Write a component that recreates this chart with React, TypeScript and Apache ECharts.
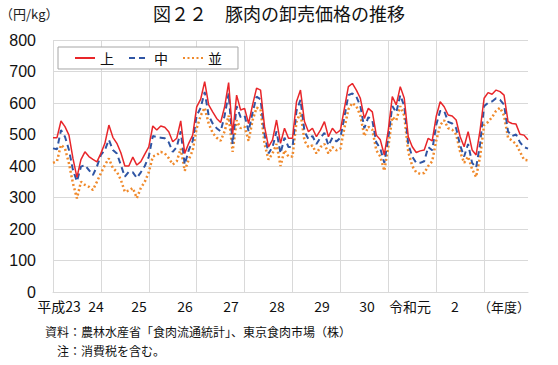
import React, { useEffect, useRef } from "react";
import * as echarts from "echarts";

const yearLabels = ["平成23", "24", "25", "26", "27", "28", "29", "30", "令和元", "2"];
const yearLabelX = [59, 96, 139, 185, 231, 277, 322, 367, 410, 455];
const unitLabel = "（年度）";
const months = ["4", "5", "6", "7", "8", "9", "10", "11", "12", "1", "2", "3"];

const jo = [
  490, 490, 543, 525, 498, 424, 364, 420, 445, 430, 421, 413,
  440, 472, 530, 491, 472, 442, 400, 400, 428, 403, 414, 438,
  461, 527, 514, 527, 523, 509, 477, 488, 543, 440, 472, 498,
  588, 612, 668, 594, 572, 551, 538, 588, 665, 500, 625, 578,
  583, 535, 594, 647, 641, 525, 461, 483, 546, 472, 520, 488,
  488, 604, 641, 541, 509, 520, 493, 514, 541, 493, 520, 504,
  514, 583, 652, 662, 641, 615, 551, 583, 572, 498, 483, 435,
  514, 620, 594, 652, 615, 493, 461, 443, 448, 451, 488, 480,
  557, 604, 588, 562, 559, 546, 493, 461, 509, 451, 435, 514,
  615, 633, 628, 641, 636, 625, 541, 535, 533, 501, 498, 483,
];
const chu = [
  456, 453, 514, 493, 451, 387, 351, 398, 403, 387, 371, 398,
  435, 451, 483, 451, 440, 403, 366, 382, 380, 362, 380, 400,
  430, 495, 492, 490, 488, 475, 445, 460, 510, 405, 450, 480,
  560, 585, 635, 560, 535, 520, 510, 560, 630, 470, 590, 555,
  560, 510, 570, 620, 612, 500, 440, 460, 510, 440, 490, 460,
  460, 575, 610, 510, 485, 495, 470, 490, 505, 465, 490, 478,
  490, 555, 625, 630, 620, 590, 520, 555, 545, 475, 455, 410,
  490, 590, 570, 625, 590, 470, 430, 410, 410, 415, 460, 450,
  530, 575, 575, 540, 535, 520, 465, 430, 470, 410, 395, 470,
  590, 600, 605, 615, 610, 595, 510, 495, 500, 475, 460, 455,
];
const nami = [
  410, 415, 467, 456, 408, 345, 297, 350, 340, 334, 324, 350,
  377, 403, 424, 393, 382, 356, 318, 322, 330, 298, 330, 350,
  380, 430, 435, 445, 440, 425, 405, 415, 455, 385, 420, 450,
  520, 560, 585, 535, 505, 490, 480, 510, 560, 445, 545, 520,
  525, 480, 545, 585, 580, 470, 420, 440, 470, 400, 450, 430,
  430, 540, 570, 480, 460, 465, 440, 460, 470, 440, 460, 450,
  455, 520, 580, 600, 590, 560, 495, 525, 515, 450, 430, 385,
  460, 555, 545, 590, 560, 445, 400, 380, 375, 378, 400, 415,
  480, 530, 545, 520, 515, 500, 445, 410, 430, 390, 365, 430,
  530, 540, 555, 575, 585, 560, 490, 480, 470, 445, 420, 418,
];

const categories: string[] = [];
yearLabels.forEach((y) => months.forEach((m) => categories.push(y + "-" + m)));

const FONT = "'Liberation Sans', 'Noto Sans CJK JP', sans-serif";
const JFONT = "'Noto Sans CJK JP', sans-serif";

export default function App() {
  const ref = useRef<HTMLDivElement>(null);
  useEffect(() => {
    if (!ref.current) return;
    const chart = echarts.init(ref.current, undefined, { renderer: "svg" });
    const graphics: any[] = [
      {
        type: "text",
        left: "center",
        top: 4,
        style: { text: "図２２　豚肉の卸売価格の推移", font: `18px ${JFONT}`, fill: "#111" },
      },
      {
        type: "text",
        x: 0,
        y: 7,
        style: { text: "（円/kg）", font: `13px ${JFONT}`, fill: "#222" },
      },
      ...yearLabels.map((t, i) => ({
        type: "text",
        x: yearLabelX[i],
        y: 306,
        style: { text: t, font: `14px ${JFONT}`, fill: "#111", align: "center", verticalAlign: "middle" },
      })),
      {
        type: "text",
        x: 478,
        y: 306,
        style: { text: unitLabel, font: `13px ${JFONT}`, fill: "#111", verticalAlign: "middle" },
      },
      {
        type: "text",
        x: 45,
        y: 331,
        style: { text: "資料：農林水産省「食肉流通統計」、東京食肉市場（株）", font: `12px ${JFONT}`, fill: "#111", verticalAlign: "middle" },
      },
      {
        type: "text",
        x: 57,
        y: 350,
        style: { text: "注：消費税を含む。", font: `12px ${JFONT}`, fill: "#111", verticalAlign: "middle" },
      },
    ];
    chart.setOption({
      animation: false,
      backgroundColor: "#fff",
      grid: { left: 53, right: 30, top: 40, bottom: 73, containLabel: false },
      legend: {
        left: 58,
        top: 47,
        padding: [4, 16, 4, 16],
        itemGap: 14,
        itemWidth: 20,
        itemHeight: 14,
        backgroundColor: "#fff",
        borderColor: "#a6a6a6",
        borderWidth: 1,
        borderRadius: 0,
        itemStyle: { opacity: 0 },
        textStyle: { fontSize: 14, fontFamily: JFONT, color: "#111" },
        data: ["上", "中", "並"],
      },
      xAxis: {
        type: "category",
        data: categories,
        boundaryGap: false,
        axisLabel: { show: false },
        axisTick: { show: false },
        axisLine: { lineStyle: { color: "#d9d9d9", width: 1 } },
        splitLine: {
          show: true,
          interval: (index: number) => index % 12 === 0,
          lineStyle: { color: "#d9d9d9", width: 1 },
        },
      },
      yAxis: {
        type: "value",
        min: 0,
        max: 800,
        interval: 100,
        axisLine: { show: false },
        axisTick: { show: false },
        axisLabel: { fontSize: 16, fontFamily: FONT, color: "#111", margin: 17 },
        splitLine: { lineStyle: { color: "#d9d9d9", width: 1 } },
      },
      series: [
        {
          name: "上",
          type: "line",
          data: jo,
          symbol: "none",
          lineStyle: { color: "#e8262a", width: 1.5 },
          itemStyle: { color: "#e8262a" },
          z: 3,
        },
        {
          name: "中",
          type: "line",
          data: chu,
          symbol: "none",
          lineStyle: { color: "#2f55a4", width: 2, type: [6, 4] },
          itemStyle: { color: "#2f55a4" },
          z: 2,
        },
        {
          name: "並",
          type: "line",
          data: nami,
          symbol: "none",
          lineStyle: { color: "#f08a2c", width: 2.5, type: [2, 2.5], cap: "butt" },
          itemStyle: { color: "#f08a2c" },
          z: 1,
        },
      ],
      graphic: graphics,
    });
    return () => chart.dispose();
  }, []);
  return (
    <div
      ref={ref}
      style={{ position: "fixed", left: 0, top: 0, width: 558, height: 365, background: "#fff" }}
    />
  );
}
